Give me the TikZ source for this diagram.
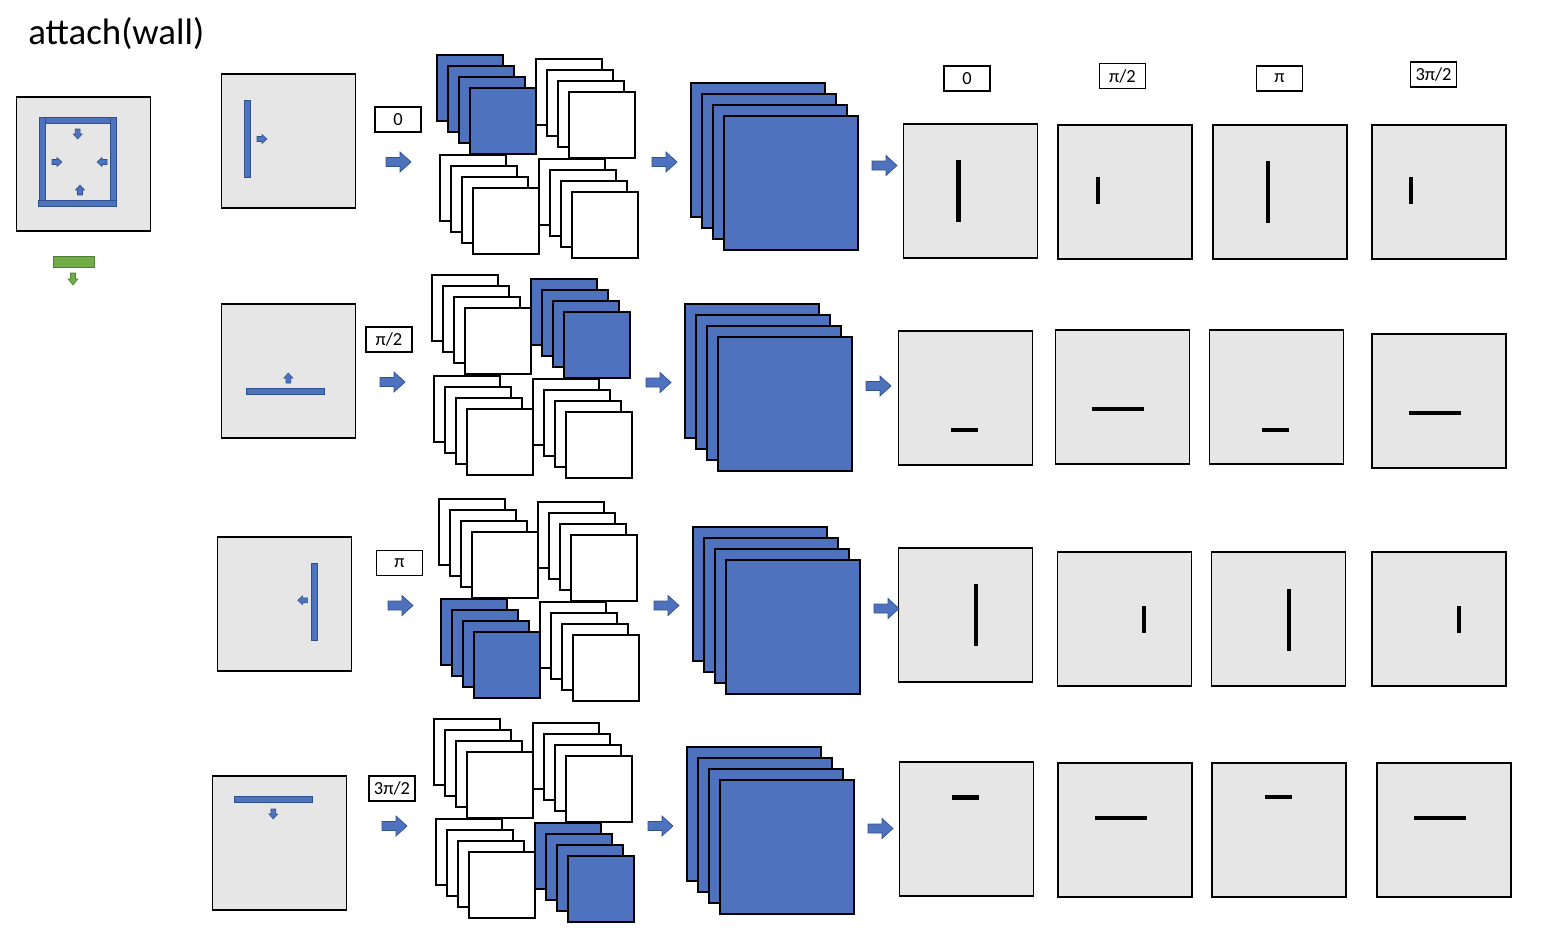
\documentclass[tikz,border=0pt]{standalone}
\usepackage{fontspec}
\setmainfont{Carlito}
\usepackage{xcolor}
\usepackage{tikz}
\definecolor{wallblue}{RGB}{78,114,190}
\definecolor{walledge}{RGB}{47,82,143}
\definecolor{boxgray}{RGB}{230,230,230}
\definecolor{dirgreen}{RGB}{112,173,71}
\definecolor{dirgreenedge}{RGB}{80,126,50}

\begin{document}
\begin{tikzpicture}[x=0.02cm, y=-0.02cm,
  gridbox/.style={rectangle, minimum width=2.68cm, minimum height=2.68cm, inner sep=0, fill=boxgray, draw, line width=0.65pt},
  featbox/.style={rectangle, minimum width=1.32cm, minimum height=1.32cm, inner sep=0, draw, line width=0.65pt},
  bigbox/.style={rectangle, minimum width=2.68cm, minimum height=2.68cm, inner sep=0, fill=wallblue, draw, line width=0.65pt},
  anglebox/.style={rectangle, minimum width=0.92cm, minimum height=0.5cm, inner sep=0, draw, line width=0.6pt, font=\fontsize{10.5}{12}\selectfont},
  wallbar/.style={rectangle, inner sep=0, fill=wallblue, draw=walledge, line width=0.4pt},
  vlong/.style={rectangle, inner sep=0, fill=black, minimum width=0.09cm, minimum height=1.24cm},
  vshort/.style={rectangle, inner sep=0, fill=black, minimum width=0.09cm, minimum height=0.54cm},
  hlong/.style={rectangle, inner sep=0, fill=black, minimum width=1.04cm, minimum height=0.09cm},
  hshort/.style={rectangle, inner sep=0, fill=black, minimum width=0.54cm, minimum height=0.09cm},
  bigarrow/.pic={\draw[fill=wallblue, draw=walledge, line width=0.4pt] (0,-4.5) -- (14,-4.5) -- (14,-10) -- (25,0) -- (14,10) -- (14,4.5) -- (0,4.5) -- cycle;},
  smallarrow/.pic={\draw[fill=wallblue, draw=walledge, line width=0.3pt] (0,-2.5) -- (5,-2.5) -- (5,-4.5) -- (10,0) -- (5,4.5) -- (5,2.5) -- (0,2.5) -- cycle;},
  greenarrow/.pic={\draw[fill=dirgreen, draw=dirgreenedge, line width=0.3pt] (0,-2.5) -- (6,-2.5) -- (6,-5) -- (12,0) -- (6,5) -- (6,2.5) -- (0,2.5) -- cycle;}
]
\useasboundingbox (0,0) rectangle (1562,950);

\node at (28,44.5) [anchor=base west, inner sep=0, font=\fontsize{21}{25}\selectfont] (title) {attach(wall)};

% room with walls
\node at (83.5,164) [gridbox] (room) {};
\node at (77.8,120.3) [wallbar, minimum width=1.54cm, minimum height=0.12cm] (walltop) {};
\node at (42.3,159) [wallbar, minimum width=0.12cm, minimum height=1.66cm] (wallleft) {};
\node at (113.3,159) [wallbar, minimum width=0.12cm, minimum height=1.66cm] (wallright) {};
\node at (77.3,203.3) [wallbar, minimum width=1.56cm, minimum height=0.12cm] (wallbottom) {};
\pic[rotate=-90] at (77.7,129) {smallarrow};
\pic at (52,162) {smallarrow};
\pic[rotate=180] at (107,162) {smallarrow};
\pic[rotate=90] at (80,195) {smallarrow};
\node at (74,261.8) [rectangle, inner sep=0, minimum width=0.83cm, minimum height=0.22cm, fill=dirgreen, draw=dirgreenedge, line width=0.4pt] (piece) {};
\pic[rotate=-90] at (73,273) {greenarrow};

% row 0
\node at (288.5,141) [gridbox] (in1) {};
\node at (247.5,138.5) [wallbar, minimum width=0.13cm, minimum height=1.54cm] (wall1) {};
\pic at (257,139) {smallarrow};
\node at (398,119.5) [anglebox] (ang1) {0};
\pic at (386,162) {bigarrow};
\foreach \sx/\sy/\col [count=\i] in {437/55/wallblue, 536/59/white, 440/155/white, 539/159/white}
  \foreach \k in {0,...,3}
    \node at ({\sx+33+11*\k},{\sy+33+11*\k}) [featbox, fill=\col] (feat1\i\k) {};
\pic at (652,162) {bigarrow};
\foreach \k in {0,...,3}
  \node at ({691+67+11*\k},{83+67+11*\k}) [bigbox] (big1\k) {};
\pic at (872,165.5) {bigarrow};
\node at (970.5,191) [gridbox] (out11) {};
\node at (958.5,191) [vlong] (seg11) {};
\node at (1125,192) [gridbox] (out12) {};
\node at (1098,190.5) [vshort] (seg12) {};
\node at (1280,192) [gridbox] (out13) {};
\node at (1268,192) [vlong] (seg13) {};
\node at (1439,192) [gridbox] (out14) {};
\node at (1411,190.5) [vshort] (seg14) {};

% rotation labels
\node at (967,78.5) [anglebox] (top1) {0};
\node at (1122.5,76) [anglebox] (top2) {π/2};
\node at (1279.5,78.5) [anglebox] (top3) {π};
\node at (1433.5,74.5) [anglebox] (top4) {3π/2};

% row pi/2
\node at (288.5,371) [gridbox] (in2) {};
\node at (285.5,391) [wallbar, minimum width=1.57cm, minimum height=0.12cm] (wall2) {};
\pic[rotate=90] at (288.3,383) {smallarrow};
\node at (389,339.5) [anglebox] (ang2) {π/2};
\pic at (380,382) {bigarrow};
\foreach \sx/\sy/\col [count=\i] in {432/275/white, 531/279/wallblue, 434/376/white, 533/379/white}
  \foreach \k in {0,...,3}
    \node at ({\sx+33+11*\k},{\sy+33+11*\k}) [featbox, fill=\col] (feat2\i\k) {};
\pic at (646,382.5) {bigarrow};
\foreach \k in {0,...,3}
  \node at ({685+67+11*\k},{304+67+11*\k}) [bigbox] (big2\k) {};
\pic at (866,386) {bigarrow};
\node at (965.5,398) [gridbox] (out21) {};
\node at (964.5,430) [hshort] (seg21) {};
\node at (1122.5,397) [gridbox] (out22) {};
\node at (1118,409) [hlong] (seg22) {};
\node at (1276.5,397) [gridbox] (out23) {};
\node at (1275.5,430) [hshort] (seg23) {};
\node at (1439,401) [gridbox] (out24) {};
\node at (1434.5,413) [hlong] (seg24) {};

% row pi
\node at (284.5,604) [gridbox] (in3) {};
\node at (314.5,602) [wallbar, minimum width=0.13cm, minimum height=1.55cm] (wall3) {};
\pic[rotate=180] at (307.7,600.3) {smallarrow};
\node at (399.5,563) [anglebox] (ang3) {π};
\pic at (388,605.5) {bigarrow};
\foreach \sx/\sy/\col [count=\i] in {439/499/white, 538/502/white, 441/599/wallblue, 540/602/white}
  \foreach \k in {0,...,3}
    \node at ({\sx+33+11*\k},{\sy+33+11*\k}) [featbox, fill=\col] (feat3\i\k) {};
\pic at (654,605.5) {bigarrow};
\foreach \k in {0,...,3}
  \node at ({693+67+11*\k},{527+67+11*\k}) [bigbox] (big3\k) {};
\node at (965.5,615) [gridbox] (out31) {};
\node at (976,615) [vlong] (seg31) {};
\pic at (874,608.5) {bigarrow};
\node at (1124.5,619) [gridbox] (out32) {};
\node at (1144,619.5) [vshort] (seg32) {};
\node at (1278.5,619) [gridbox] (out33) {};
\node at (1289,619.5) [vlong] (seg33) {};
\node at (1439,619) [gridbox] (out34) {};
\node at (1459,619.5) [vshort] (seg34) {};

% row 3pi/2
\node at (279.5,843) [gridbox] (in4) {};
\node at (273.5,799) [wallbar, minimum width=1.57cm, minimum height=0.12cm] (wall4) {};
\pic[rotate=-90] at (273.3,809) {smallarrow};
\node at (392,788.5) [anglebox] (ang4) {3π/2};
\pic at (382,826) {bigarrow};
\foreach \sx/\sy/\col [count=\i] in {434/719/white, 533/723/white, 436/819/white, 535/823/wallblue}
  \foreach \k in {0,...,3}
    \node at ({\sx+33+11*\k},{\sy+33+11*\k}) [featbox, fill=\col] (feat4\i\k) {};
\pic at (648,826) {bigarrow};
\foreach \k in {0,...,3}
  \node at ({687+67+11*\k},{747+67+11*\k}) [bigbox] (big4\k) {};
\pic at (868,828.5) {bigarrow};
\node at (966.5,829) [gridbox] (out41) {};
\node at (965,797.5) [hshort] (seg41) {};
\node at (1125,830) [gridbox] (out42) {};
\node at (1121,818) [hlong] (seg42) {};
\node at (1279,830) [gridbox] (out43) {};
\node at (1278.5,797) [hshort] (seg43) {};
\node at (1444,830) [gridbox] (out44) {};
\node at (1440,818) [hlong] (seg44) {};
\end{tikzpicture}
\end{document}
